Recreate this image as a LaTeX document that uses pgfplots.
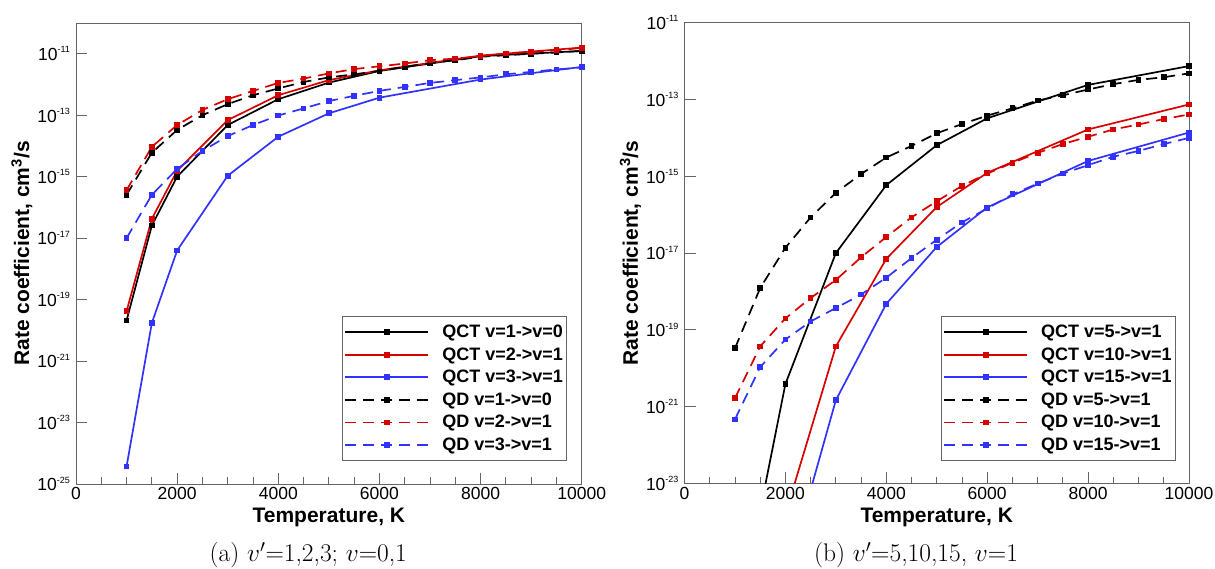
\RequirePackage{fix-cm}
\documentclass[border=0pt]{standalone}
\usepackage{pgfplots}
\pgfplotsset{compat=1.18}
\usepackage{fontspec}
\newfontfamily\arial{Liberation Sans}
\definecolor{cred}{RGB}{215,0,0}
\definecolor{cblue}{RGB}{50,50,255}
\definecolor{frame}{RGB}{100,100,100}
\newcommand{\tl}[1]{10\raisebox{7.6pt}{\fontsize{9}{9}\selectfont #1}}
\pgfplotsset{rk/.style={
  scale only axis,
  xmin=0, xmax=10000,
  xtick={0,2000,...,10000},
  xticklabels={0,2000,4000,6000,8000,10000},
  scaled x ticks=false,
  minor x tick num=3,
  tick align=inside,
  xtick pos=bottom, ytick pos=left,
  major tick length=11pt, minor tick length=6.5pt,
  axis line style={frame, line width=0.9pt},
  every tick/.style={frame, line width=0.9pt},
  tick label style={font=\arial\fontsize{17.5}{17.5}\selectfont},
  yticklabel style={xshift=-2.5pt},
  label style={font=\arial\bfseries\fontsize{21}{21}\selectfont},
  xlabel={Temperature, K},
  ylabel={Rate coefficient, cm\textsuperscript{3}/s},
  xlabel style={at={(axis description cs:0.5,-0.084)}, anchor=base},
  ylabel style={at={(axis description cs:-0.107,0.5)}, anchor=center},
  legend cell align=left,
  legend style={draw=frame, line width=0.9pt, font=\arial\bfseries\fontsize{18}{18}\selectfont,
    anchor=south east, inner xsep=1.7pt, inner ysep=6.5pt, row sep=4.5pt, column sep=11pt},
  legend image code/.code={\draw[mark repeat=2, mark phase=2, #1] plot coordinates {(0pt,0pt) (41.5pt,0pt) (83pt,0pt)};},
  every axis plot/.append style={line width=1.7pt, mark=square*, mark size=2pt},
  qd/.style={dash pattern=on 11pt off 7pt, mark options={solid}},
}}
\begin{document}
\begin{tikzpicture}
\useasboundingbox (0,0) rectangle (1215pt,569pt);
\begin{axis}[rk, at={(76pt,85pt)}, anchor=south west, width=505.7pt, height=461pt,
  ymin=-25, ymax=-10, ytick={-25,-23,...,-11},
  yticklabels={\tl{-25},\tl{-23},\tl{-21},\tl{-19},\tl{-17},\tl{-15},\tl{-13},\tl{-11}},
  legend style={at={(0.971,0.0499)}}]
\addplot[black] coordinates {(1000,-19.68) (1500,-16.59) (2000,-15.0) (3000,-13.32) (4000,-12.48) (5000,-11.94) (6000,-11.56) (8000,-11.08) (10000,-10.91)};
\addlegendentry{QCT v=1->v=0}
\addplot[cred] coordinates {(1000,-19.38) (1500,-16.37) (2000,-14.81) (3000,-13.16) (4000,-12.35) (5000,-11.86) (6000,-11.54) (8000,-11.06) (10000,-10.8)};
\addlegendentry{QCT v=2->v=1}
\addplot[cblue] coordinates {(1000,-24.43) (1500,-19.76) (2000,-17.4) (3000,-14.97) (4000,-13.70) (5000,-12.94) (6000,-12.43) (8000,-11.84) (10000,-11.43)};
\addlegendentry{QCT v=3->v=1}
\addplot[black, qd] coordinates {(1000,-15.59) (1500,-14.22) (2000,-13.48) (2500,-13.0) (3000,-12.64) (3500,-12.35) (4000,-12.13) (4500,-11.92) (5000,-11.77) (5500,-11.67) (6000,-11.56) (6500,-11.43) (7000,-11.30) (7500,-11.21) (8000,-11.1) (8500,-11.05) (9000,-11.0) (9500,-10.96) (10000,-10.91)};
\addlegendentry{QD v=1->v=0}
\addplot[cred, qd] coordinates {(1000,-15.44) (1500,-14.03) (2000,-13.32) (2500,-12.83) (3000,-12.48) (3500,-12.21) (4000,-11.95) (4500,-11.81) (5000,-11.64) (5500,-11.5) (6000,-11.41) (6500,-11.32) (7000,-11.21) (7500,-11.16) (8000,-11.08) (8500,-10.99) (9000,-10.94) (9500,-10.89) (10000,-10.81)};
\addlegendentry{QD v=2->v=1}
\addplot[cblue, qd] coordinates {(1000,-17.0) (1500,-15.59) (2000,-14.75) (2500,-14.16) (3000,-13.68) (3500,-13.32) (4000,-13.01) (4500,-12.78) (5000,-12.54) (5500,-12.37) (6000,-12.21) (6500,-12.08) (7000,-11.95) (7500,-11.86) (8000,-11.77) (8500,-11.67) (9000,-11.59) (9500,-11.51) (10000,-11.45)};
\addlegendentry{QD v=3->v=1}
\end{axis}
\begin{axis}[rk, at={(684.5pt,85.5pt)}, anchor=south west, width=504.5pt, height=460.8pt,
  ymin=-23, ymax=-11, ytick={-23,-21,...,-11},
  yticklabels={\tl{-23},\tl{-21},\tl{-19},\tl{-17},\tl{-15},\tl{-13},\tl{-11}},
  legend style={at={(0.974,0.0488)}}]
\addplot[black] coordinates {(1500,-23.7) (2000,-20.41) (3000,-17.0) (4000,-15.23) (5000,-14.19) (6000,-13.49) (8000,-12.62) (10000,-12.13)};
\addlegendentry{QCT v=5->v=1}
\addplot[cred] coordinates {(2000,-23.8) (3000,-19.43) (4000,-17.15) (5000,-15.80) (6000,-14.91) (8000,-13.78) (10000,-13.13)};
\addlegendentry{QCT v=10->v=1}
\addplot[cblue] coordinates {(2000,-25.5) (3000,-20.83) (4000,-18.32) (5000,-16.84) (6000,-15.81) (8000,-14.60) (10000,-13.86)};
\addlegendentry{QCT v=15->v=1}
\addplot[black, qd] coordinates {(1000,-19.48) (1500,-17.91) (2000,-16.86) (2500,-16.07) (3000,-15.43) (3500,-14.94) (4000,-14.51) (4500,-14.21) (5000,-13.88) (5500,-13.64) (6000,-13.42) (6500,-13.23) (7000,-13.03) (7500,-12.89) (8000,-12.74) (8500,-12.6) (9000,-12.49) (9500,-12.42) (10000,-12.32)};
\addlegendentry{QD v=5->v=1}
\addplot[cred, qd] coordinates {(1000,-20.78) (1500,-19.43) (2000,-18.70) (2500,-18.17) (3000,-17.70) (3500,-17.11) (4000,-16.58) (4500,-16.07) (5000,-15.65) (5500,-15.25) (6000,-14.93) (6500,-14.65) (7000,-14.39) (7500,-14.16) (8000,-13.97) (8500,-13.78) (9000,-13.65) (9500,-13.51) (10000,-13.39)};
\addlegendentry{QD v=10->v=1}
\addplot[cblue, qd] coordinates {(1000,-21.33) (1500,-19.97) (2000,-19.25) (2500,-18.78) (3000,-18.43) (3500,-18.08) (4000,-17.64) (4500,-17.13) (5000,-16.65) (5500,-16.20) (6000,-15.84) (6500,-15.47) (7000,-15.19) (7500,-14.93) (8000,-14.71) (8500,-14.49) (9000,-14.34) (9500,-14.16) (10000,-14.0)};
\addlegendentry{QD v=15->v=1}
\end{axis}
\node[anchor=base, font=\fontsize{25.5}{25.5}\selectfont] at (308.3pt,7pt) {(a) $v'$=1,2,3; $v$=0,1};
\node[anchor=base, font=\fontsize{25.5}{25.5}\selectfont] at (916pt,7pt) {(b) $v'$=5,10,15, $v$=1};
\end{tikzpicture}
\end{document}
